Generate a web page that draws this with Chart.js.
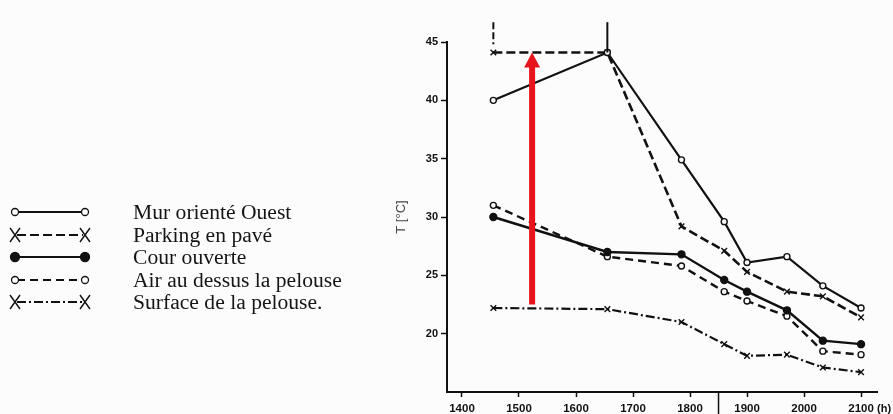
<!DOCTYPE html>
<html>
<head>
<meta charset="utf-8">
<script src="https://cdn.jsdelivr.net/npm/chart.js@4.4.0/dist/chart.umd.min.js"></script>
<style>
    html, body { margin: 0; padding: 0; background: #fcfcfc; }
    #wrap { position: relative; width: 893px; height: 414px; overflow: hidden; }
    #chart { position: absolute; left: 0; top: 0; }
    #legend { position: absolute; left: 0; top: 0; font-family: "Liberation Serif", "Times New Roman", serif; font-size: 20px; color: #151515; }
    .row { position: absolute; left: 0; height: 22px; width: 360px; }
    .row svg { position: absolute; left: 0; top: 0; }
    .row span { position: absolute; left: 133px; top: 0; line-height: 22px; white-space: nowrap; transform: scaleX(1.08); transform-origin: left center; }
</style>
</head>
<body>
<div id="wrap">
    <canvas id="chart" width="893" height="414"></canvas>
    <div id="legend"></div>
</div>
<script>
// hours (hhmm) where the temperatures were read
const hours = [1455, 1655, 1785, 1860, 1900, 1970, 2033, 2100];

const seriesNames = [
    "Mur orienté Ouest",
    "Parking en pavé",
    "Cour ouverte",
    "Air au dessus la pelouse",
    "Surface de la pelouse.",
];

const murOuest = [40.0, 44.1, 34.9, 29.6, 26.1, 26.6, 24.1, 22.2];
const parking = [44.1, 44.1, 29.2, 27.1, 25.3, 23.6, 23.2, 21.4];
const courOuverte = [30.0, 27.0, 26.8, 24.6, 23.6, 22.0, 19.4, 19.1];
const airPelouse = [31.0, 26.6, 25.8, 23.6, 22.8, 21.5, 18.5, 18.2];
const surfacePelouse = [22.2, 22.1, 21.0, 19.1, 18.1, 18.2, 17.1, 16.7];

const xTicks = [1400, 1500, 1600, 1700, 1800, 1900, 2000, 2100];
const yTicks = [20, 25, 30, 35, 40, 45];

// red arrow and the hand-drawn marks of the scan (data units)
const arrowHour = 1523;
const arrowFrom = 22.5;
const arrowTo = 44.1;
const topMarkHours = [1455, 1655];
const bottomMarkHour = 1850;

const ink = "#111";

function toPoints(values) {
    return values.map((v, i) => ({ x: hours[i], y: v }));
}

const styles = [
    { dash: [], point: "circle", fill: "#fcfcfc", radius: 3, width: 2.2 },
    { dash: [9, 4], point: "crossRot", fill: ink, radius: 4, width: 2.6 },
    { dash: [], point: "circle", fill: ink, radius: 3.5, width: 2.4 },
    { dash: [8, 5], point: "circle", fill: "#fcfcfc", radius: 3, width: 2.4 },
    { dash: [9, 3, 2, 3], point: "crossRot", fill: ink, radius: 4, width: 2.2 },
];

const seriesValues = [murOuest, parking, courOuverte, airPelouse, surfacePelouse];

const datasets = seriesValues.map((vals, i) => ({
    label: seriesNames[i],
    data: toPoints(vals),
    borderColor: ink,
    borderWidth: styles[i].width,
    borderDash: styles[i].dash,
    pointStyle: styles[i].point,
    pointRadius: styles[i].radius,
    pointBackgroundColor: styles[i].fill,
    pointBorderColor: ink,
    pointBorderWidth: 1.4,
    tension: 0,
}));

//----------------------Extras plugin-----------------------------//
const extras = {
    id: "extras",
    afterDatasetsDraw(chart) {
        const { ctx, scales: { x, y } } = chart;
        ctx.save();

        // marks above the plot
        ctx.strokeStyle = ink;
        ctx.lineWidth = 2;
        topMarkHours.forEach((h, i) => {
            ctx.setLineDash(i === 0 ? [7, 3] : []);
            ctx.beginPath();
            ctx.moveTo(x.getPixelForValue(h), y.getPixelForValue(46.7));
            ctx.lineTo(x.getPixelForValue(h), y.getPixelForValue(i === 0 ? 44.8 : 44.1));
            ctx.stroke();
        });
        ctx.setLineDash([]);
        ctx.lineWidth = 1.5;
        ctx.beginPath();
        ctx.moveTo(x.getPixelForValue(bottomMarkHour), y.getPixelForValue(15));
        ctx.lineTo(x.getPixelForValue(bottomMarkHour), y.getPixelForValue(12.5));
        ctx.stroke();

        // red arrow
        const ax = x.getPixelForValue(arrowHour);
        const yTip = y.getPixelForValue(arrowTo);
        const yBase = y.getPixelForValue(arrowFrom);
        ctx.fillStyle = "#e8141c";
        ctx.fillRect(ax - 3, yTip + 14, 6, yBase - yTip - 14);
        ctx.beginPath();
        ctx.moveTo(ax, yTip);
        ctx.lineTo(ax + 8, yTip + 15);
        ctx.lineTo(ax - 8, yTip + 15);
        ctx.closePath();
        ctx.fill();

        // unit after the last hour label
        ctx.fillStyle = ink;
        ctx.font = "bold 11px 'Liberation Sans', Arial, sans-serif";
        ctx.textAlign = "left";
        ctx.textBaseline = "top";
        ctx.fillText("(h)", x.getPixelForValue(2100) + 16, y.bottom + 11);
        ctx.restore();
    },
};
//----------------------Extras plugin-----------------------------//

new Chart(document.getElementById("chart"), {
    type: "line",
    data: { datasets: datasets },
    plugins: [extras],
    options: {
        responsive: false,
        animation: false,
        layout: { padding: { left: 390, top: 42, right: 16, bottom: 0 } },
        plugins: { legend: { display: false }, tooltip: { enabled: false } },
        scales: {
            x: {
                type: "linear",
                min: 1373.7,
                max: 2128,
                afterBuildTicks: (s) => { s.ticks = xTicks.map((v) => ({ value: v })); },
                afterFit: (s) => { s.height = 22; },
                border: { display: true, color: ink, width: 2 },
                grid: { drawOnChartArea: false, tickLength: 5, tickColor: ink, tickWidth: 1.5 },
                ticks: {
                    color: ink,
                    padding: 5,
                    maxRotation: 0,
                    font: { family: "'Liberation Sans', Arial, sans-serif", size: 11.5, weight: "bold" },
                    callback: (v) => String(v),
                },
            },
            y: {
                min: 15,
                max: 45,
                afterBuildTicks: (s) => { s.ticks = yTicks.map((v) => ({ value: v })); },
                afterFit: (s) => { s.width = 57; },
                border: { display: true, color: ink, width: 2 },
                grid: { drawOnChartArea: false, tickLength: 6, tickColor: ink, tickWidth: 1.5 },
                ticks: {
                    color: ink,
                    padding: 3,
                    font: { family: "'Liberation Sans', Arial, sans-serif", size: 11, weight: "bold" },
                },
                title: {
                    display: true,
                    text: "T [°C]",
                    color: "#444",
                    padding: { top: 4, bottom: 0 },
                    font: { family: "'Liberation Sans', Arial, sans-serif", size: 13 },
                },
            },
        },
    },
});

//----------------------HTML legend-----------------------------//
function marker(style, cx, cy) {
    if (style.point === "crossRot") {
        return `<path d="M${cx - 5} ${cy - 7} L${cx + 5} ${cy + 7} M${cx + 5} ${cy - 7} L${cx - 5} ${cy + 7}" stroke="${ink}" stroke-width="1.4" fill="none"/>`;
    }
    const filled = style.fill === ink;
    return `<circle cx="${cx}" cy="${cy}" r="${filled ? 4.5 : 3.5}" fill="${filled ? ink : "#fff"}" stroke="${ink}" stroke-width="1.3"/>`;
}

const legendEl = document.getElementById("legend");
seriesNames.forEach((name, i) => {
    const st = styles[i];
    const top = 201 + i * 22.5;
    const row = document.createElement("div");
    row.className = "row";
    row.style.top = top + "px";
    const dash = st.dash.length ? `stroke-dasharray="${st.dash.join(" ")}"` : "";
    row.innerHTML =
        `<svg width="100" height="22" viewBox="0 0 100 22">` +
        `<line x1="17" y1="11" x2="83" y2="11" stroke="${ink}" stroke-width="1.8" ${dash}/>` +
        marker(st, 15, 11) + marker(st, 85, 11) +
        `</svg><span>${name}</span>`;
    legendEl.appendChild(row);
});
</script>
</body>
</html>
